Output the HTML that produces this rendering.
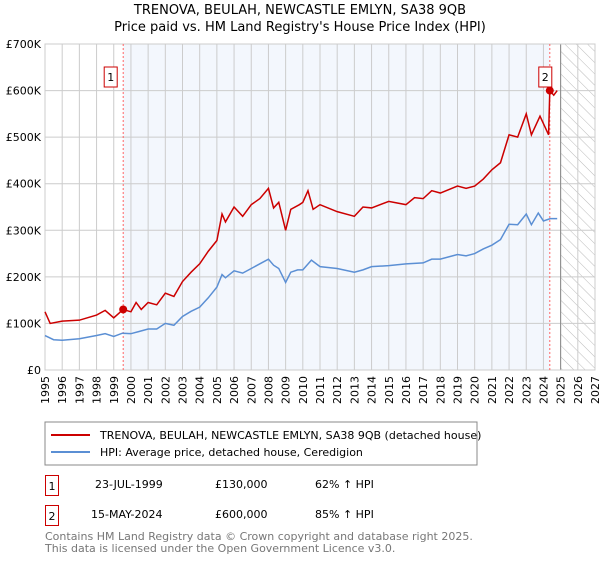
<!DOCTYPE html>
<html><head><meta charset="utf-8"><style>
body{margin:0;background:#fff;font-family:"Liberation Sans","DejaVu Sans",sans-serif;}
svg text{font-family:"DejaVu Sans","Liberation Sans",sans-serif;}
</style></head><body>
<svg id="c" width="600" height="560" xmlns="http://www.w3.org/2000/svg">
<defs><pattern id="hatch" width="8" height="8" patternUnits="userSpaceOnUse" patternTransform="rotate(-45)"><line x1="0" y1="0" x2="0" y2="8" stroke="#bbb" stroke-width="1"/></pattern></defs>
<text x="300" y="14" text-anchor="middle" font-size="13">TRENOVA, BEULAH, NEWCASTLE EMLYN, SA38 9QB</text>
<text x="300" y="31" text-anchor="middle" font-size="13">Price paid vs. HM Land Registry's House Price Index (HPI)</text>
<g id="plot"></g>
<rect x="45" y="422" width="432" height="43" fill="#fff" stroke="#888"/>
<line x1="51" y1="435" x2="90" y2="435" stroke="#cc0000" stroke-width="2"/>
<text x="100" y="439" font-size="11">TRENOVA, BEULAH, NEWCASTLE EMLYN, SA38 9QB (detached house)</text>
<line x1="51" y1="452" x2="90" y2="452" stroke="#5b8fd4" stroke-width="2"/>
<text x="100" y="456" font-size="11">HPI: Average price, detached house, Ceredigion</text>
<rect x="45.5" y="475.5" width="13" height="20" fill="none" stroke="#cc0000"/>
<text x="52" y="490" font-size="11" text-anchor="middle">1</text>
<text x="95" y="488" font-size="11">23-JUL-1999</text>
<text x="215" y="488" font-size="11">£130,000</text>
<text x="315" y="488" font-size="11">62% ↑ HPI</text>
<rect x="45.5" y="505.5" width="13" height="20" fill="none" stroke="#cc0000"/>
<text x="52" y="520" font-size="11" text-anchor="middle">2</text>
<text x="91" y="518" font-size="11">15-MAY-2024</text>
<text x="215" y="518" font-size="11">£600,000</text>
<text x="315" y="518" font-size="11">85% ↑ HPI</text>
<text x="45" y="540" font-size="11" fill="#777">Contains HM Land Registry data © Crown copyright and database right 2025.</text>
<text x="45" y="552" font-size="11" fill="#777">This data is licensed under the Open Government Licence v3.0.</text>
</svg>
<script>
const hpiYears=[1995,1995.5,1996,1997,1998,1998.5,1999,1999.5,2000,2000.5,2001,2001.5,2002,2002.5,2003,2003.5,2004,2004.5,2005,2005.3,2005.5,2006,2006.5,2007,2007.5,2008,2008.3,2008.6,2009,2009.3,2009.7,2010,2010.5,2011,2012,2013,2013.5,2014,2015,2016,2017,2017.5,2018,2019,2019.5,2020,2020.5,2021,2021.5,2022,2022.5,2023,2023.3,2023.7,2024,2024.4,2024.8];
const hpiValues=[74,65,64,67,74,78,72,79,78,83,88,88,100,96,115,126,135,155,178,205,198,213,208,218,228,238,225,218,188,210,215,215,236,222,218,210,215,222,224,228,230,238,238,248,245,250,260,268,280,313,312,335,312,337,320,325,325];
const priceYears=[1995,1995.3,1996,1997,1998,1998.5,1999,1999.55,2000,2000.3,2000.6,2001,2001.5,2002,2002.5,2003,2003.5,2004,2004.5,2005,2005.3,2005.5,2006,2006.5,2007,2007.5,2008,2008.3,2008.6,2009,2009.3,2009.8,2010,2010.3,2010.6,2011,2012,2013,2013.5,2014,2015,2016,2016.5,2017,2017.5,2018,2019,2019.5,2020,2020.5,2021,2021.5,2022,2022.5,2023,2023.3,2023.8,2024.3,2024.37,2024.6,2024.8];
const priceValues=[125,100,105,107,118,128,112,130,125,145,130,145,140,165,158,190,210,228,255,278,335,318,350,330,355,368,390,348,360,300,345,355,360,385,345,355,340,330,350,348,362,355,370,368,385,380,395,390,395,410,430,445,505,500,550,505,545,505,600,590,600];
const saleYears=[1999.55,2024.37];
const saleValues=[130,600];
const yTicks=[0,100,200,300,400,500,600,700];
const yTickLabels=["£0","£100K","£200K","£300K","£400K","£500K","£600K","£700K"];
const xTicks=[1995,1996,1997,1998,1999,2000,2001,2002,2003,2004,2005,2006,2007,2008,2009,2010,2011,2012,2013,2014,2015,2016,2017,2018,2019,2020,2021,2022,2023,2024,2025,2026,2027];
const X0=45,X1=595,Y0=370,Y1=44;
const xs=y=>X0+(y-1995)/(2027-1995)*(X1-X0);
const ys=v=>Y0-v/700*(Y0-Y1);
const NS="http://www.w3.org/2000/svg";
const g=document.getElementById('plot');
function mk(t,a){const e=document.createElementNS(NS,t);for(const k in a)e.setAttribute(k,a[k]);g.appendChild(e);return e;}
let e;
e=mk('rect',{x:X0,y:Y1,width:X1-X0,height:Y0-Y1,fill:'#fff'});
e=mk('rect',{x:xs(saleYears[0]),y:Y1,width:xs(saleYears[1])-xs(saleYears[0]),height:Y0-Y1,fill:'#eef3fc',opacity:0.7});


e=mk('rect',{x:xs(2025),y:Y1,width:X1-xs(2025),height:Y0-Y1,fill:'url(#hatch)'});


xTicks.forEach(t=>{mk('line',{x1:xs(t),x2:xs(t),y1:Y1,y2:Y0,stroke:'#ccc'});
 e=mk('text',{x:0,y:0,'font-size':11,'text-anchor':'end',transform:`translate(${xs(t)+4},${Y0+6}) rotate(-90)`});e.textContent=t;
 
 });
yTicks.forEach((t,i)=>{mk('line',{x1:X0,x2:X1,y1:ys(t),y2:ys(t),stroke:'#ccc'});
 e=mk('text',{x:X0-4,y:ys(t)+4,'font-size':11,'text-anchor':'end'});e.textContent=yTickLabels[i];
 
 });
mk('line',{x1:xs(2025),x2:xs(2025),y1:Y1,y2:Y0,stroke:'#888'});
mk('rect',{x:X0,y:Y1,width:X1-X0,height:Y0-Y1,fill:'none',stroke:'#ccc'});
saleYears.forEach(s=>{e=mk('line',{x1:xs(s),x2:xs(s),y1:Y1,y2:Y0,stroke:'#ff6666','stroke-dasharray':'2,2'});
 
 });
e=mk('polyline',{points:hpiYears.map((y,i)=>xs(y)+','+ys(hpiValues[i])).join(' '),fill:'none',stroke:'#5b8fd4','stroke-width':1.5});


e=mk('polyline',{points:priceYears.map((y,i)=>xs(y)+','+ys(priceValues[i])).join(' '),fill:'none',stroke:'#cc0000','stroke-width':1.5});


saleYears.forEach((s,i)=>{e=mk('circle',{cx:xs(s),cy:ys(saleValues[i]),r:4,fill:'#cc0000'});
 
 
 const bx=xs(s)-4-(i==0?8:0);
 e=mk('rect',{x:bx-7,y:67,width:13,height:20,fill:'#fff',stroke:'#cc0000'});
 
 
 e=mk('text',{x:bx-0.5,y:81,'font-size':11,'text-anchor':'middle'});e.textContent=String(i+1);
 
 });
</script>
</body></html>
